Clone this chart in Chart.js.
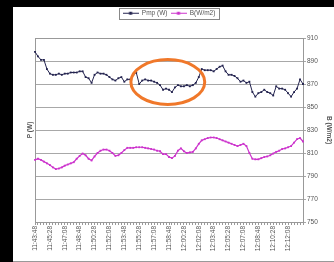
<!DOCTYPE html>
<html><head><meta charset="utf-8">
<script src="https://cdn.jsdelivr.net/npm/chart.js@4.4.1/dist/chart.umd.min.js"></script>
<style>
html,body{margin:0;padding:0;background:#000;width:334px;height:262px;overflow:hidden}
#wrap{position:absolute;left:13px;top:7px;width:321px;height:254px;background:#fff;border-bottom:1px solid #999}
</style></head><body>
<div id="wrap"><canvas id="c" width="321" height="254"></canvas></div>
<script>
const categories = [
"11:43:48",
"11:44:08","11:44:28","11:44:48","11:45:08","11:45:28","11:45:48",
"11:46:08","11:46:28","11:46:48","11:47:08","11:47:28","11:47:48",
"11:48:08","11:48:28","11:48:48","11:49:08","11:49:28","11:49:48",
"11:50:08","11:50:28","11:50:48","11:51:08","11:51:28","11:51:48",
"11:52:08","11:52:28","11:52:48","11:53:08","11:53:28","11:53:48",
"11:54:08","11:54:28","11:54:48","11:55:08","11:55:28","11:55:48",
"11:56:08","11:56:28","11:56:48","11:57:08","11:57:28","11:57:48",
"11:58:08","11:58:28","11:58:48","11:59:08","11:59:28","11:59:48",
"12:00:08","12:00:28","12:00:48","12:01:08","12:01:28","12:01:48",
"12:02:08","12:02:28","12:02:48","12:03:08","12:03:28","12:03:48",
"12:04:08","12:04:28","12:04:48","12:05:08","12:05:28","12:05:48",
"12:06:08","12:06:28","12:06:48","12:07:08","12:07:28","12:07:48",
"12:08:08","12:08:28","12:08:48","12:09:08","12:09:28","12:09:48",
"12:10:08","12:10:28","12:10:48","12:11:08","12:11:28","12:11:48",
"12:12:08","12:12:28","12:12:48","12:13:08","12:13:28","12:13:48"
];
const tickLabels = ["11:43:48","11:45:28","11:47:08","11:48:48","11:50:28","11:52:08","11:53:48","11:55:28","11:57:08","11:58:48","12:00:28","12:02:08","12:03:48","12:05:28","12:07:08","12:08:48","12:10:28","12:12:08"];
const pmp = [898,894,891,891,883,879,878,878,879,878,879,879,880,880,880,881,881,876,875,871,
878,880,879,879,878,876,874,873,875,876,872,874,874,878,880,870,873,874,873,873,
872,871,869,865,866,865,863,867,869,868,868,869,868,869,871,876,883,882,882,882,
881,883,885,886,881,878,878,877,875,872,873,871,872,863,859,862,863,865,863,862,
860,868,866,866,865,862,859,863,866,874,870];
const irr = [804,805,804,802.5,801,799.5,797.5,796,796.5,797.5,799,800,801,802,805,807.5,809.5,808,805,803.5,
807,810,812,813,813,812,810,807.5,808,810,812.5,814.5,814.5,814.5,815,815,815,814.5,814,813.5,
813,812,811.5,809,809,806.5,805.5,807.5,812,814,811.5,810,810.5,811,814,818,821,822,823,823.5,
823.5,823,822,821,820,819,818,817,816,817,818,816,810,805,804.5,804.5,805.5,806.5,807,808,
809.5,811,812,813.5,814,815,816,819,822,823,820];
const yTicks = {min:750, max:910, step:20};
const seriesNames = ["Pmp (W)","B(W/m2)"];
const highlight = {cx:44.6, cy:871.7, rx:12.4, ry:19.5};

const FONT = "'Liberation Sans', Arial, sans-serif";
function legendMark(color){
  const c=document.createElement('canvas');c.width=16;c.height=5;
  const x=c.getContext('2d');x.strokeStyle=color;x.lineWidth=1;
  x.beginPath();x.moveTo(0,2.5);x.lineTo(16,2.5);x.stroke();
  x.fillStyle=color;x.fillRect(6.5,1,3,3);return c;
}
const C1='#23234f', C2='#cc33cc';
const marks=[legendMark(C1),legendMark(C2)];

const helper = {
  id:'helper',
  beforeLayout(chart){
    const lg=chart.legend;
    if(lg && !lg._p){const f=lg.fit.bind(lg);lg.fit=function(){f();this.height=31;};lg._p=true;}
  },
  beforeDatasetsDraw(chart){
    const a=chart.chartArea,ctx=chart.ctx;
    ctx.save();ctx.strokeStyle='#999';ctx.lineWidth=1;
    ctx.strokeRect(Math.round(a.left)+0.5,Math.round(a.top)+0.5,Math.round(a.right-a.left),Math.round(a.bottom-a.top));
    ctx.restore();
  },
  afterDraw(chart){
    const ctx=chart.ctx, xs=chart.scales.x, ys=chart.scales.y;
    const cx=xs.getPixelForValue(highlight.cx), cy=ys.getPixelForValue(highlight.cy);
    const rx=highlight.rx*(xs.getPixelForValue(1)-xs.getPixelForValue(0));
    const ry=ys.getPixelForValue(highlight.cy-highlight.ry)-cy;
    ctx.save();ctx.strokeStyle='#f0782a';ctx.lineWidth=3;
    ctx.beginPath();ctx.ellipse(cx,cy,rx,ry,0,0,Math.PI*2);ctx.stroke();
    const lg=chart.legend;
    if(lg && lg.legendHitBoxes && lg.legendHitBoxes.length){
      let l=1e9,r=-1e9,t=1e9,b=-1e9;
      lg.legendHitBoxes.forEach(h=>{l=Math.min(l,h.left);r=Math.max(r,h.left+h.width);t=Math.min(t,h.top);b=Math.max(b,h.top+h.height);});
      ctx.strokeStyle='#888';ctx.lineWidth=1;
      ctx.strokeRect(Math.round(l-4)+0.5,Math.round(t-2)+0.5,Math.round(r-l+7),Math.round(b-t+4));
    }
    ctx.restore();
  }
};

new Chart(document.getElementById('c'),{
  type:'line',
  data:{labels:categories,datasets:[
    {label:seriesNames[0],data:pmp,borderColor:C1,backgroundColor:C1,borderWidth:1,pointRadius:1.3,pointStyle:'rect',pointBorderWidth:0,yAxisID:'y',tension:0},
    {label:seriesNames[1],data:irr,borderColor:C2,backgroundColor:C2,borderWidth:1.2,pointRadius:1.3,pointStyle:'rect',pointBorderWidth:0,yAxisID:'y',tension:0}
  ]},
  options:{
    responsive:false,animation:false,devicePixelRatio:1,
    layout:{padding:0},
    plugins:{
      legend:{position:'top',align:'center',fullSize:false,
        labels:{font:{family:FONT,size:6.5},color:'#555',usePointStyle:true,pointStyleWidth:16,boxHeight:6,padding:3,
          generateLabels(chart){return chart.data.datasets.map((d,i)=>({text:d.label,pointStyle:marks[i],fillStyle:d.borderColor,strokeStyle:d.borderColor,lineWidth:0,datasetIndex:i,fontColor:'#555'}));}
        }},
      tooltip:{enabled:false}
    },
    scales:{
      x:{type:'category',offset:false,
        afterFit(s){s.height=39;},
        grid:{drawOnChartArea:false,drawTicks:true,tickLength:3,color:'#999'},
        border:{display:true,color:'#999'},
        ticks:{autoSkip:false,minRotation:90,maxRotation:90,padding:1,font:{family:FONT,size:6.5},color:'#555',
          callback(v,i){const l=categories[i];return tickLabels.includes(l)?l:'';}}
      },
      y:{position:'right',min:yTicks.min,max:yTicks.max,
        afterFit(s){s.width=31;},
        grid:{color:'#a8a8a8',tickLength:3,drawTicks:true},
        border:{display:true,color:'#999'},
        ticks:{stepSize:yTicks.step,padding:1,font:{family:FONT,size:6.5},color:'#555'},
        title:{display:true,text:'B (W/m2)',font:{family:FONT,size:6.5,weight:'bold'},color:'#555',padding:{top:1,bottom:0}}
      },
      yL:{position:'left',min:yTicks.min,max:yTicks.max,
        afterFit(s){s.width=22;},
        grid:{display:false},
        border:{display:true,color:'#999'},
        ticks:{display:false},
        title:{display:true,text:'P (W)',font:{family:FONT,size:6.5,weight:'bold'},color:'#555',padding:{top:13,bottom:0}}
      }
    }
  },
  plugins:[helper]
});
</script>
</body></html>
